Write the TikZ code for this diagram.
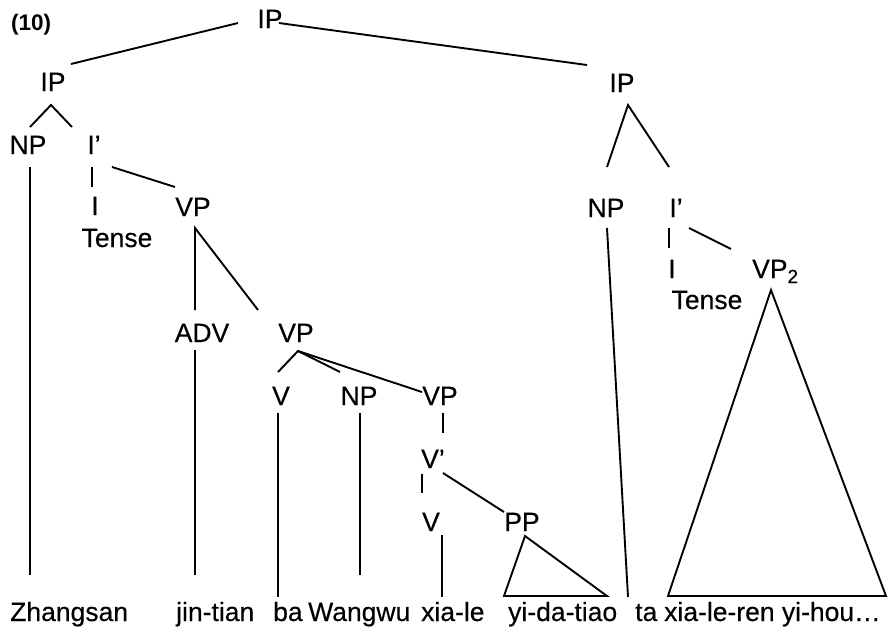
\documentclass[tikz,border=0pt]{standalone}
\usepackage{fontspec}
\setmainfont{Liberation Sans}
\newfontfamily\treefont{Liberation Sans}[FakeBold=0.3]
\begin{document}
\begin{tikzpicture}[x=1pt,y=-1pt,
  cat/.style={anchor=base,inner sep=0pt,font=\treefont\fontsize{26.5}{30}\selectfont},
  word/.style={anchor=base west,inner sep=0pt,font=\treefont\fontsize{26.5}{30}\selectfont},
  branch/.style={line width=1.9pt},
  roof/.style={line width=1.9pt,line join=miter}
]
\useasboundingbox (0,0) rectangle (889,633);

% example number
\node[anchor=base west,inner sep=0pt,font=\fontsize{22.5}{26}\selectfont\bfseries] (num) at (11,30) {(10)};

% categories
\node[cat] (ip0)   at (270,28)  {IP};
\node[cat] (ipL)   at (53,91)   {IP};
\node[cat] (npL)   at (28,154)  {NP};
\node[cat] (ibarL) at (94,154)  {I’};
\node[cat] (iL)    at (95,215)  {I};
\node[cat] (tenseL) at (117,247) {Tense};
\node[cat] (vp1)   at (193,216) {VP};
\node[cat] (adv)   at (202,342) {ADV};
\node[cat] (vp2)   at (296,342) {VP};
\node[cat] (v1)    at (281,405) {V};
\node[cat] (np2)   at (359,405) {NP};
\node[cat] (vp3)   at (440,405) {VP};
\node[cat] (vbar)  at (433,468) {V’};
\node[cat] (v2)    at (431,531) {V};
\node[cat] (pp)    at (522,531) {PP};
\node[cat] (ipR)   at (622,92)  {IP};
\node[cat] (npR)   at (606,217) {NP};
\node[cat] (ibarR) at (676,217) {I’};
\node[cat] (iR)    at (672,278) {I};
\node[cat] (tenseR) at (707,309) {Tense};
\node[cat,anchor=base west] (vpR) at (752,278)
  {VP\raisebox{-5pt}{\fontsize{19}{20}\selectfont 2}};

% terminal string
\node[word] (w1) at (10,621)  {Zhangsan};
\node[word] (w2) at (176,621) {jin-tian};
\node[word] (w3) at (273,621) {ba};
\node[word] (w4) at (308,621) {Wangwu};
\node[word] (w5) at (421,621) {xia-le};
\node[word] (w6) at (508,621) {yi-da-tiao};
\node[word] (w7) at (635,621) {ta};
\node[word] (w8) at (664,621) {xia-le-ren yi-hou…};

% branches
\draw[branch] ([shift={(-32,-5)}]ip0.base) -- ([shift={(18,-27)}]ipL.base);
\draw[branch] ([shift={(9,-5)}]ip0.base) -- ([shift={(-35,-27)}]ipR.base);

\draw[branch] ([shift={(2,-27)}]npL.base) -- ([shift={(-2,14)}]ipL.base)
              -- ([shift={(-22,-27)}]ibarL.base);
\draw[branch] ([shift={(2,13)}]npL.base) -- ([shift={(20,-46)}]w1.base west);
\draw[branch] ([shift={(-2,13)}]ibarL.base) -- ([shift={(-3,-28)}]iL.base);
\draw[branch] ([shift={(18,13)}]ibarL.base) -- ([shift={(-18,-29)}]vp1.base);

\draw[branch] ([shift={(-7,-32)}]adv.base) -- ([shift={(2,12)}]vp1.base)
              -- ([shift={(-38,-32)}]vp2.base);
\draw[branch] ([shift={(-7,8)}]adv.base) -- ([shift={(19,-46)}]w2.base west);

\draw[branch] ([shift={(-3,-33)}]v1.base) -- ([shift={(2,9)}]vp2.base)
              -- ([shift={(-18,-13)}]vp3.base);
\draw[branch] ([shift={(2,9)}]vp2.base) -- ([shift={(-19,-33)}]np2.base);
\draw[branch] ([shift={(-3,8)}]v1.base) -- ([shift={(5,-24)}]w3.base west);
\draw[branch] ([shift={(1,8)}]np2.base) -- ([shift={(52,-46)}]w4.base west);

\draw[branch] ([shift={(3,8)}]vp3.base) -- ([shift={(10,-35)}]vbar.base);
\draw[branch] ([shift={(-11,6)}]vbar.base) -- ([shift={(-9,-38)}]v2.base);
\draw[branch] ([shift={(10,5)}]vbar.base) -- ([shift={(-18,-19)}]pp.base);
\draw[branch] ([shift={(11,4)}]v2.base) -- ([shift={(21,-24)}]w5.base west);
\draw[roof] ([shift={(3,5)}]pp.base) -- ([shift={(-4,-25)}]w6.base west)
            -- ([shift={(99,-25)}]w6.base west) -- cycle;

\draw[branch] ([shift={(1,-50)}]npR.base) -- ([shift={(6,13)}]ipR.base)
              -- ([shift={(-7,-50)}]ibarR.base);
\draw[branch] ([shift={(1,11)}]npR.base) -- ([shift={(-7,-24)}]w7.base west);
\draw[branch] ([shift={(-7,11)}]ibarR.base) -- ([shift={(-3,-30)}]iR.base);
\draw[branch] ([shift={(13,11)}]ibarR.base) -- ([shift={(-21,-29)}]vpR.base west);
\draw[roof] ([shift={(19,12)}]vpR.base west) -- ([shift={(4,-25)}]w8.base west)
            -- ([shift={(222,-25)}]w8.base west) -- cycle;
\end{tikzpicture}
\end{document}
